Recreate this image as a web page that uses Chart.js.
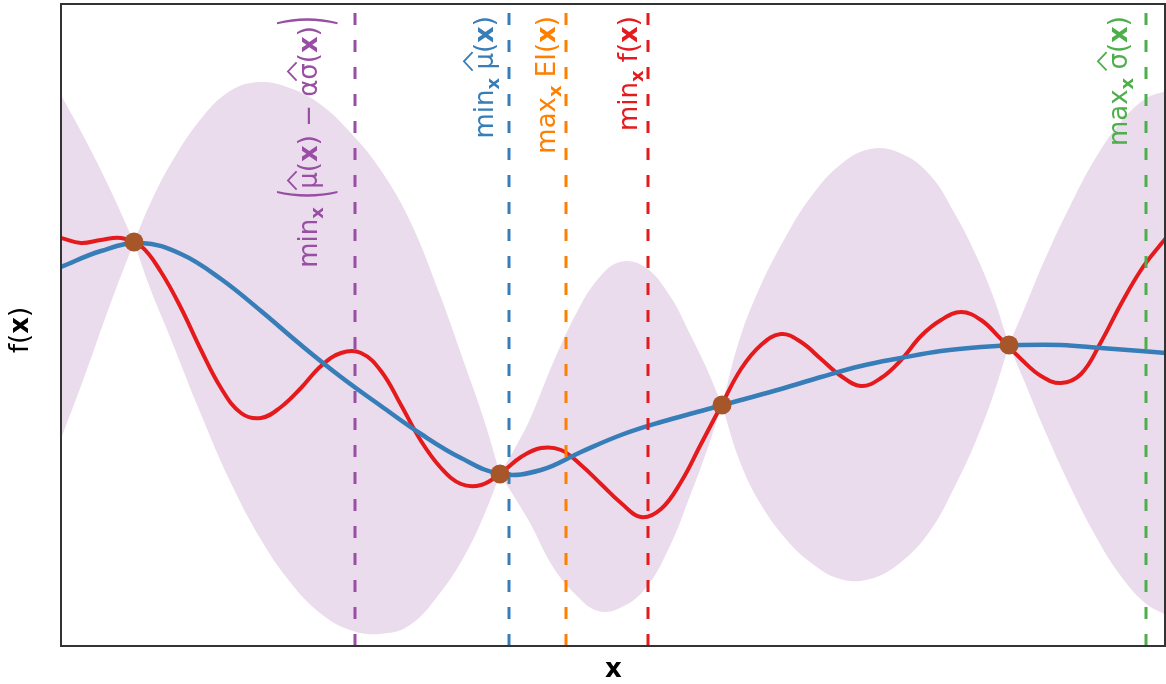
<!DOCTYPE html>
<html>
<head>
<meta charset="utf-8">
<script src="https://cdn.jsdelivr.net/npm/chart.js@4/dist/chart.umd.min.js"></script>
<style>
  html, body { margin: 0; padding: 0; background: #fff; }
  #wrap { width: 1166px; height: 684px; }
</style>
</head>
<body>
<div id="wrap"><canvas id="gpChart" width="1166" height="684"></canvas></div>
<script>
// true objective f(x)
const truthX = [0, 0.2, 0.4, 0.6, 0.8, 1.0, 1.2, 1.4, 1.6, 1.8, 2.0, 2.2, 2.4, 2.6, 2.8, 3.0, 3.2, 3.4, 3.6,
  3.8, 4.0, 4.2, 4.4, 4.6, 4.8, 5.0, 5.2, 5.4, 5.6, 5.8, 6.0, 6.2, 6.4, 6.6, 6.8, 7.0, 7.2, 7.4,
  7.6, 7.8, 8.0, 8.2, 8.4, 8.6, 8.8, 9.0, 9.2, 9.4, 9.6, 9.8, 10.0, 10.2, 10.4, 10.6, 10.8, 11.0, 11.05];
const truthY = [4.08, 4.03, 4.06, 4.08, 4.00, 3.74, 3.38, 2.96, 2.58, 2.33, 2.28, 2.39, 2.58, 2.80, 2.93, 2.93, 2.75, 2.41, 2.05,
  1.78, 1.62, 1.61, 1.73, 1.89, 1.98, 1.96, 1.81, 1.62, 1.43, 1.29, 1.37, 1.64, 2.02, 2.40, 2.77, 3.01, 3.12, 3.04,
  2.87, 2.70, 2.60, 2.68, 2.86, 3.10, 3.26, 3.34, 3.26, 3.07, 2.87, 2.70, 2.63, 2.72, 3.04, 3.42, 3.76, 4.02, 4.08];

// GP posterior mean
const meanX = [0, 0.4, 0.8, 1.2, 1.6, 2.0, 2.4, 2.8, 3.2, 3.6, 4.0, 4.4, 4.8, 5.2, 5.6,
  6.0, 6.4, 6.8, 7.2, 7.6, 8.0, 8.4, 8.8, 9.2, 9.6, 10.0, 10.4, 10.8, 11.05];
const meanY = [3.79, 3.95, 4.03, 3.92, 3.67, 3.35, 3.01, 2.69, 2.40, 2.12, 1.88, 1.72, 1.76, 1.94, 2.11,
  2.24, 2.35, 2.46, 2.57, 2.69, 2.80, 2.88, 2.95, 2.99, 3.01, 3.01, 2.98, 2.95, 2.93];

// observations
const obsX = [0.73, 4.39, 6.61, 9.48];
const obsY = [4.04, 1.72, 2.41, 3.01];

// uncertainty band, one piece between each pair of observations
const bandX = [
  [0, 0.24, 0.49, 0.73],
  [0.73, 0.89, 1.09, 1.39, 1.69, 1.99, 2.29, 2.59, 2.89, 3.19, 3.49, 3.79, 4.04, 4.24, 4.39],
  [4.39, 4.54, 4.69, 4.92, 5.16, 5.37, 5.59, 5.84, 6.09, 6.29, 6.45, 6.61],
  [6.61, 6.79, 6.99, 7.24, 7.49, 7.79, 8.09, 8.39, 8.69, 8.94, 9.14, 9.32, 9.48],
  [9.48, 9.64, 9.84, 10.09, 10.34, 10.59, 10.84, 11.05]
];
const bandUpper = [
  [5.51, 5.07, 4.57, 4.04],
  [4.04, 4.42, 4.81, 5.26, 5.55, 5.64, 5.58, 5.42, 5.14, 4.77, 4.25, 3.51, 2.81, 2.23, 1.72],
  [1.72, 1.98, 2.27, 2.83, 3.34, 3.67, 3.84, 3.79, 3.50, 3.12, 2.79, 2.41],
  [2.41, 3.08, 3.59, 4.08, 4.48, 4.81, 4.97, 4.93, 4.71, 4.32, 3.93, 3.50, 3.01],
  [3.01, 3.39, 3.87, 4.40, 4.87, 5.23, 5.47, 5.55]
];
const bandLower = [
  [2.07, 2.71, 3.41, 4.04],
  [4.04, 3.58, 3.09, 2.34, 1.65, 1.08, 0.64, 0.33, 0.16, 0.12, 0.21, 0.53, 0.91, 1.33, 1.72],
  [1.72, 1.48, 1.23, 0.79, 0.50, 0.35, 0.38, 0.57, 1.00, 1.50, 1.93, 2.41],
  [2.41, 1.84, 1.43, 1.08, 0.84, 0.67, 0.67, 0.83, 1.15, 1.60, 2.03, 2.50, 3.01],
  [3.01, 2.63, 2.15, 1.60, 1.11, 0.71, 0.43, 0.31]
];

// vertical markers: argmin / argmax of the various criteria
const markerX = [2.94, 4.48, 5.05, 5.87, 10.85];
const markerColors = ["#984ea3", "#377eb8", "#ff7f00", "#e41a1c", "#4daf4a"];

const X_MAX = 11.05;
const Y_MAX = 6.42;
const FONT = '"DejaVu Sans", sans-serif';

const toPts = (xs, ys) => xs.map((x, i) => ({ x: x, y: ys[i] }));

// label parts: t = text, b = bold, sub = subscript, hat = wide hat, big = stretched delimiter
const markerLabels = [
  [{ t: "min" }, { t: "x", b: true, sub: true }, { t: " " }, { t: "(", big: 2.6 }, { t: "μ", hat: true }, { t: "(" }, { t: "x", b: true },
   { t: ")" }, { t: " − " }, { t: "α" }, { t: "σ", hat: true }, { t: "(" }, { t: "x", b: true }, { t: ")" }, { t: ")", big: 2.6 }],
  [{ t: "min" }, { t: "x", b: true, sub: true }, { t: " " }, { t: "μ", hat: true }, { t: "(" }, { t: "x", b: true }, { t: ")" }],
  [{ t: "max" }, { t: "x", b: true, sub: true }, { t: " " }, { t: "EI" }, { t: "(" }, { t: "x", b: true }, { t: ")" }],
  [{ t: "min" }, { t: "x", b: true, sub: true }, { t: " " }, { t: "f" }, { t: "(" }, { t: "x", b: true }, { t: ")" }],
  [{ t: "max" }, { t: "x", b: true, sub: true }, { t: " " }, { t: "σ", hat: true }, { t: "(" }, { t: "x", b: true }, { t: ")" }]
];
// baseline position of each rotated label (pixels)
const labelBaseX = [317, 493, 555, 637, 1127];

const datasets = [];

datasets.push({
  label: "observations",
  data: toPts(obsX, obsY),
  showLine: false,
  pointRadius: 9.5,
  pointBackgroundColor: "#a65628",
  pointBorderWidth: 0,
  order: 0
});

markerX.forEach((x, i) => {
  datasets.push({
    label: "marker" + i,
    data: [{ x: x, y: 0 }, { x: x, y: Y_MAX }],
    borderColor: markerColors[i],
    borderWidth: 3,
    borderDash: [12, 15],
    pointRadius: 0,
    order: 1
  });
});

datasets.push({
  label: "mean",
  data: toPts(meanX, meanY),
  borderColor: "#377eb8",
  borderWidth: 4.5,
  pointRadius: 0,
  tension: 0.4,
  order: 2
});

datasets.push({
  label: "f",
  data: toPts(truthX, truthY),
  borderColor: "#e41a1c",
  borderWidth: 4,
  pointRadius: 0,
  tension: 0.4,
  order: 3
});

bandX.forEach((xs, i) => {
  datasets.push({
    label: "upper" + i,
    data: toPts(xs, bandUpper[i]),
    borderWidth: 0,
    pointRadius: 0,
    tension: 0.4,
    fill: "+1",
    backgroundColor: "rgba(152, 78, 163, 0.2)",
    order: 10
  });
  datasets.push({
    label: "lower" + i,
    data: toPts(xs, bandLower[i]),
    borderWidth: 0,
    pointRadius: 0,
    tension: 0.4,
    fill: false,
    order: 10
  });
});

function partFont(p, size) {
  return (p.b ? "bold " : "") + Math.round(size * (p.sub ? 0.7 : 1)) + "px " + FONT;
}

function richWidth(ctx, parts, size) {
  let w = 0;
  parts.forEach(p => { ctx.font = partFont(p, size); w += ctx.measureText(p.t).width; });
  return w;
}

function drawRich(ctx, parts, size, startX) {
  let x = startX;
  parts.forEach(p => {
    ctx.font = partFont(p, size);
    const w = ctx.measureText(p.t).width;
    if (p.big) {
      // stretched delimiter, centred a little above the baseline
      const off = -0.36 * size + p.big * 0.315 * size;
      ctx.save();
      ctx.translate(x, off);
      ctx.scale(1, p.big);
      ctx.fillText(p.t, 0, 0);
      ctx.restore();
    } else {
      ctx.fillText(p.t, x, p.sub ? size * 0.22 : 0);
    }
    if (p.hat) {
      ctx.save();
      ctx.strokeStyle = ctx.fillStyle;
      ctx.lineWidth = 1.8;
      ctx.beginPath();
      ctx.moveTo(x + w * 0.5 - size * 0.36, -size * 0.8);
      ctx.lineTo(x + w * 0.5, -size * 1.14);
      ctx.lineTo(x + w * 0.5 + size * 0.36, -size * 0.8);
      ctx.stroke();
      ctx.restore();
    }
    x += w;
  });
}

function drawRichAt(ctx, parts, size, cx, baseY, angle) {
  ctx.save();
  ctx.translate(cx, baseY);
  ctx.rotate(angle);
  drawRich(ctx, parts, size, -richWidth(ctx, parts, size) / 2);
  ctx.restore();
}

const decorations = {
  id: "decorations",
  afterDraw(chart) {
    const ctx = chart.ctx;
    const a = chart.chartArea;
    ctx.save();
    ctx.strokeStyle = "#333";
    ctx.lineWidth = 2;
    ctx.strokeRect(a.left, a.top, a.right - a.left - 1, a.bottom - a.top);

    ctx.textBaseline = "alphabetic";
    ctx.textAlign = "left";
    const size = 25.5;
    markerLabels.forEach((parts, i) => {
      ctx.save();
      ctx.translate(labelBaseX[i], 16);
      ctx.rotate(-Math.PI / 2);
      ctx.fillStyle = markerColors[i];
      drawRich(ctx, parts, size, -richWidth(ctx, parts, size));
      ctx.restore();
    });

    // axis labels
    ctx.fillStyle = "#000";
    drawRichAt(ctx, [{ t: "x", b: true }], 26, (a.left + a.right) / 2, 677, 0);
    drawRichAt(ctx, [{ t: "f" }, { t: "(" }, { t: "x", b: true }, { t: ")" }], 26, 28, (a.top + a.bottom) / 2 + 5, -Math.PI / 2);
    ctx.restore();
  }
};

new Chart(document.getElementById("gpChart"), {
  type: "line",
  data: { datasets: datasets },
  options: {
    responsive: false,
    animation: false,
    devicePixelRatio: 1,
    layout: { autoPadding: false, padding: { left: 61, top: 4, right: 0, bottom: 38 } },
    plugins: {
      legend: { display: false },
      tooltip: { enabled: false }
    },
    scales: {
      x: { type: "linear", display: false, min: 0, max: X_MAX },
      y: { type: "linear", display: false, min: 0, max: Y_MAX }
    }
  },
  plugins: [decorations]
});
</script>
</body>
</html>
